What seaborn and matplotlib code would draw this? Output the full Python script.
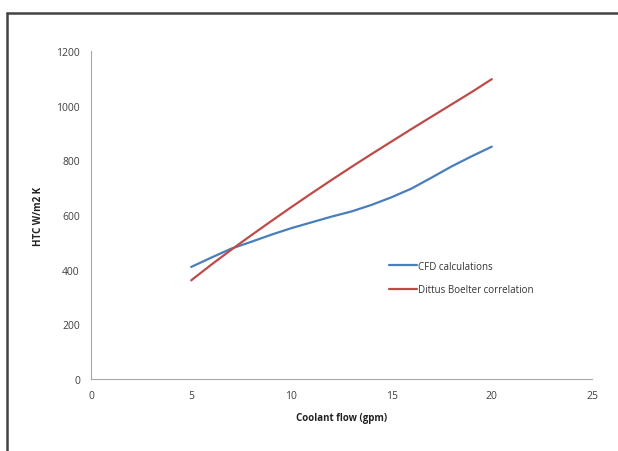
import numpy as np
import pandas as pd
import matplotlib
matplotlib.use('Agg')
import matplotlib.pyplot as plt
import seaborn as sns
from matplotlib.lines import Line2D

# values
flow = [5, 6, 7, 8, 9, 10, 11, 12, 13, 14, 15, 16, 17, 18, 19, 20]
htc_cfd = [410, 444, 477, 502, 528, 552, 573, 594, 613, 637, 665, 697, 737, 778, 815, 850]
htc_dittus = [361, 418, 473, 526, 578, 629, 679, 728, 776, 823, 869, 915, 960, 1005, 1050, 1097]
series_names = ['CFD calculations', 'Dittus Boelter correlation']

df = pd.DataFrame({
    'flow': flow * 2,
    'htc': htc_cfd + htc_dittus,
    'series': [series_names[0]] * len(flow) + [series_names[1]] * len(flow),
})

sns.set_style('white')
plt.rcParams['font.family'] = ['Open Sans', 'DejaVu Sans']

fig = plt.figure(figsize=(6.18, 4.52), dpi=100)
ax = fig.add_axes([91 / 618, 1 - 380 / 452, 501 / 618, 328 / 452])

palette = {series_names[0]: '#4A7EBB', series_names[1]: '#BE4B48'}
sns.lineplot(data=df, x='flow', y='htc', hue='series', palette=palette,
             linewidth=1.6, ax=ax, legend=False)

ax.set_xlim(0, 25)
ax.set_ylim(0, 1200)
ax.set_xticks(range(0, 26, 5))
ax.set_yticks(range(0, 1201, 200))

for s in ['top', 'right']:
    ax.spines[s].set_visible(False)
for s in ['left', 'bottom']:
    ax.spines[s].set_color('#a6a6a6')
    ax.spines[s].set_linewidth(0.8)
ax.tick_params(axis='both', which='major', direction='out', length=3, width=0.8,
               color='#a6a6a6', labelsize=7.5, labelcolor='#404040', pad=5)

ax.set_xlabel('Coolant flow (gpm)', fontsize=7, fontweight='bold', color='#222222', labelpad=8)
ax.set_ylabel('HTC W/m2 K', fontsize=7, fontweight='bold', color='#222222', labelpad=9)

handles = [Line2D([0], [0], color=palette[n], lw=1.6) for n in series_names]
fig.legend(handles, series_names, loc='upper left', bbox_to_anchor=(380 / 618, 1 - 253 / 452),
           frameon=False, fontsize=7, handlelength=2.9, handletextpad=0.1,
           labelspacing=1.3, labelcolor='#333333')

# outer chart frame (only top and left visible in the crop)
fig.add_artist(Line2D([7 / 618, 1], [1 - 14 / 452, 1 - 14 / 452], color='#444444', lw=1.8,
                      transform=fig.transFigure))
fig.add_artist(Line2D([7 / 618, 7 / 618], [0, 1 - 14 / 452], color='#444444', lw=1.8,
                      transform=fig.transFigure))

fig.savefig('out.png', dpi=100)
